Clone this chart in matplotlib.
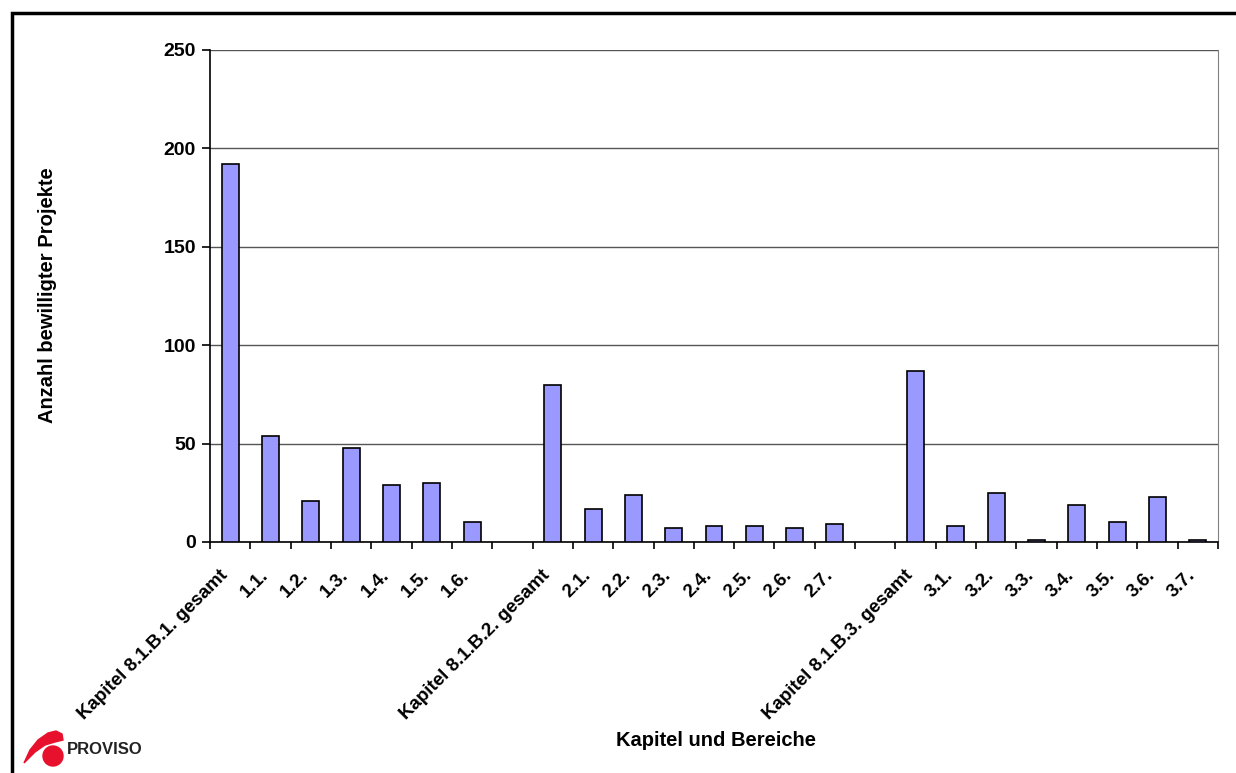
import matplotlib.pyplot as plt
from matplotlib.patches import Rectangle, Ellipse, Polygon
from matplotlib.transforms import ScaledTranslation

# Kategorien und Werte (leere Plaetze trennen die Kapitel)
categories = ['Kapitel 8.1.B.1. gesamt', '1.1.', '1.2.', '1.3.', '1.4.', '1.5.', '1.6.', '',
              'Kapitel 8.1.B.2. gesamt', '2.1.', '2.2.', '2.3.', '2.4.', '2.5.', '2.6.', '2.7.', '',
              'Kapitel 8.1.B.3. gesamt', '3.1.', '3.2.', '3.3.', '3.4.', '3.5.', '3.6.', '3.7.']
values = [192, 54, 21, 48, 29, 30, 10, 0,
          80, 17, 24, 7, 8, 8, 7, 9, 0,
          87, 8, 25, 1, 19, 10, 23, 1]
y_ticks = [0, 50, 100, 150, 200, 250]

plt.rcParams['font.family'] = ['Liberation Sans', 'DejaVu Sans']
plt.rcParams['font.weight'] = 'bold'

W, H = 1236, 773
fig = plt.figure(figsize=(W / 100, H / 100), dpi=100)
ax = fig.add_axes([210 / W, 1 - 542 / H, 1008 / W, 492 / H])

x = list(range(len(categories)))
heights = [v if c else 0 for c, v in zip(categories, values)]
bars = ax.bar(x, heights, width=0.42, color='#9999ff', edgecolor='black', linewidth=1.2, zorder=3)
for c, b in zip(categories, bars):
    if not c:
        b.set_visible(False)

ax.set_xlim(-0.5, len(categories) - 0.5)
ax.set_ylim(0, 250)
ax.set_yticks(y_ticks)
ax.set_yticklabels([str(t) for t in y_ticks], fontsize=14, fontweight='bold')
ax.yaxis.grid(True, color='#555555', linewidth=1, zorder=0)

# Striche zwischen den Kategorien, Beschriftung mittig
ax.set_xticks([i - 0.5 for i in range(len(categories) + 1)])
ax.set_xticklabels([])
ax.set_xticks(x, minor=True)
ax.set_xticklabels(categories, minor=True, rotation=45, ha='right', va='center',
                   rotation_mode='anchor', fontsize=13.5, fontweight='bold')
ax.tick_params(axis='x', which='minor', length=0, pad=22)
ax.tick_params(axis='x', which='major', length=5, width=1.2, direction='out')
ax.tick_params(axis='y', length=6, width=1.2, direction='out', pad=4)
shift = ScaledTranslation(-5 / 100, 0, fig.dpi_scale_trans)
for lbl in ax.get_xticklabels(minor=True):
    lbl.set_transform(lbl.get_transform() + shift)

ax.spines['top'].set_visible(False)
ax.spines['right'].set_color('#808080')
ax.spines['left'].set_linewidth(1.2)
ax.spines['bottom'].set_linewidth(1.2)

fig.text(48 / W, 1 - 295 / H, 'Anzahl bewilligter Projekte', rotation=90,
         ha='center', va='center', fontsize=14.5, fontweight='bold')
fig.text(716 / W, 1 - 741 / H, 'Kapitel und Bereiche',
         ha='center', va='center', fontsize=14.5, fontweight='bold')

# Rahmen um die Grafik
fig.patches.append(Rectangle((12 / W, -0.1), 1.2, 1 - 13 / H + 0.1,
                             transform=fig.transFigure, fill=False,
                             edgecolor='black', linewidth=2.5))

# PROVISO Logo
red = '#e8112d'
fig.patches.append(Ellipse((53 / W, 1 - 756 / H), 20 / W, 20 / H, transform=fig.transFigure,
                           color=red, zorder=5))
swoosh = [(24, 763), (30, 750), (38, 740), (48, 733), (56, 731), (62, 734),
          (63, 740), (55, 742), (45, 745), (35, 752)]
fig.patches.append(Polygon([(px / W, 1 - py / H) for px, py in swoosh],
                           closed=True, transform=fig.transFigure, color=red, zorder=5))
fig.text(67 / W, 1 - 750 / H, 'PROVISO', ha='left', va='center',
         fontsize=12, fontweight='bold', color='#222222')

fig.savefig('out.png', dpi=100)
